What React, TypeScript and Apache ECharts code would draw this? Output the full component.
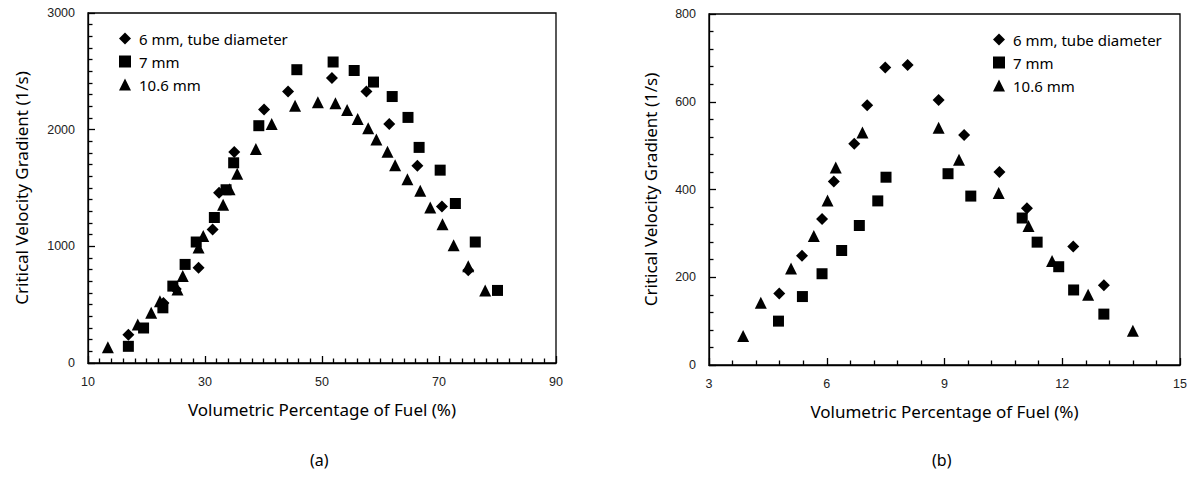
import React, { useEffect, useRef } from "react";
import * as echarts from "echarts";

// ---- Data (a): tube diameters 6, 7, 10.6 mm ----
const namesA = ["6 mm, tube diameter", "7 mm", "10.6 mm"];

const a6x = [16.9, 22.9, 25.0, 28.9, 31.3, 32.4, 35.0, 40.1, 44.2, 51.7, 57.6, 61.5, 66.3, 70.5, 75.0];
const a6y = [243, 515, 635, 817, 1145, 1460, 1808, 2172, 2327, 2443, 2327, 2049, 1690, 1341, 794];

const a7x = [16.9, 19.5, 22.8, 24.5, 26.6, 28.5, 31.6, 33.6, 34.9, 39.2, 45.7, 51.9, 55.5, 58.8, 62.0, 64.7, 66.6, 70.2, 72.8, 76.2, 80.0];
const a7y = [143, 300, 473, 659, 845, 1037, 1247, 1485, 1716, 2034, 2514, 2580, 2507, 2408, 2284, 2105, 1848, 1653, 1367, 1037, 622];

const a106x = [13.4, 18.5, 20.8, 22.3, 25.3, 26.2, 28.9, 29.7, 33.1, 34.2, 35.5, 38.7, 41.4, 45.4, 49.3, 52.3, 54.3, 56.1, 57.9, 59.3, 61.2, 62.5, 64.6, 66.8, 68.5, 70.6, 72.5, 75.0, 77.9];
const a106y = [134, 330, 430, 530, 630, 745, 990, 1089, 1357, 1490, 1623, 1834, 2049, 2206, 2236, 2227, 2169, 2092, 2012, 1915, 1811, 1696, 1576, 1476, 1333, 1189, 1009, 830, 622];

// ---- Data (b) ----
const b6x = [4.79, 5.37, 5.88, 6.18, 6.70, 7.03, 7.49, 8.06, 8.85, 9.50, 10.40, 11.10, 12.28, 13.06];
const b6y = [163, 249, 333, 418, 504, 592, 678, 684, 604, 524, 440, 357, 270, 182];

const b7x = [4.77, 5.38, 5.88, 6.38, 6.83, 7.30, 7.51, 9.09, 9.67, 10.98, 11.36, 11.91, 12.29, 13.06];
const b7y = [100, 156, 208, 261, 318, 374, 428, 436, 385, 335, 280, 224, 171, 116];

const b106x = [3.87, 4.32, 5.09, 5.67, 6.02, 6.23, 6.91, 8.85, 9.37, 10.38, 11.14, 11.74, 12.66, 13.80];
const b106y = [66, 142, 220, 294, 375, 450, 530, 541, 468, 392, 317, 237, 160, 78];

// tick settings
const aXTicks = { min: 10, max: 90, interval: 20, minor: 10 };
const aYTicks = { min: 0, max: 3000, interval: 1000, minor: 10 };
const bXTicks = { min: 3, max: 15, interval: 3, minor: 5 };
const bYTicks = { min: 0, max: 800, interval: 200, minor: 5 };

const xTitle = "Volumetric Percentage of Fuel (%)";
const yTitle = "Critical Velocity Gradient (1/s)";
const panelLabels = ["(a)", "(b)"];

const zip = (xs: number[], ys: number[]) => xs.map((x, i) => [x, ys[i]]);

const symbols = ["diamond", "rect", "triangle"];
const sizes: any[] = [12, 11, 12];

const TITLE_FONT = "'Noto Sans', 'Open Sans', sans-serif";
const TICK_FONT = "'Liberation Sans', Arial, sans-serif";

const plain = (v: number) => String(v);

function axis(kind: "x" | "y", gridIndex: number, t: any, nameGap: number) {
  return {
    type: "value",
    gridIndex,
    min: t.min,
    max: t.max,
    interval: t.interval,
    name: kind === "x" ? xTitle : yTitle,
    nameLocation: "middle",
    nameGap,
    nameTextStyle: { fontFamily: TITLE_FONT, fontSize: 17, color: "#000" },
    axisLine: { show: true, lineStyle: { color: "#000", width: 1.3 } },
    axisTick: { show: true, inside: true, length: 7, lineStyle: { color: "#000", width: 1.3 } },
    minorTick: { show: true, splitNumber: t.minor, length: 4.5, lineStyle: { color: "#000", width: 1.3 } },
    axisLabel: { margin: kind === "x" ? 12 : 13, fontFamily: TICK_FONT, fontSize: 12.5, color: "#222", formatter: plain },
    splitLine: { show: true, lineStyle: { color: "rgba(0,0,0,0)", width: 0 } },
  };
}

export default function App() {
  const ref = useRef<HTMLDivElement>(null);

  useEffect(() => {
    if (!ref.current) return;
    const chart = echarts.init(ref.current, undefined, { renderer: "svg" });

    const dataA = [zip(a6x, a6y), zip(a7x, a7y), zip(a106x, a106y)];
    const dataB = [zip(b6x, b6y), zip(b7x, b7y), zip(b106x, b106y)];

    const series: any[] = [];
    const mk = (d: number[][], i: number, ax: number) => ({
      type: "scatter",
      name: namesA[i],
      xAxisIndex: ax,
      yAxisIndex: ax,
      data: d,
      symbol: symbols[i],
      symbolSize: sizes[i],
      itemStyle: { color: "#000", opacity: 1 },
      emphasis: { disabled: true },
    });
    dataA.forEach((d, i) => series.push(mk(d, i, 0)));
    dataB.forEach((d, i) => series.push(mk(d, i, 1)));

    const legendBase = {
      orient: "vertical",
      data: namesA,
      itemWidth: 12,
      itemHeight: 12,
      itemGap: 8,
      selectedMode: false,
      textStyle: { fontFamily: TITLE_FONT, fontSize: 15, color: "#000", lineHeight: 15, padding: [0, 0, 0, 3] },
    };

    chart.setOption({
      animation: false,
      backgroundColor: "#fff",
      grid: [
        { left: 88, top: 13, width: 468, height: 350, show: true, borderColor: "#000", borderWidth: 1.3 },
        { left: 709, top: 14, width: 471, height: 351, show: true, borderColor: "#000", borderWidth: 1.3 },
      ],
      xAxis: [axis("x", 0, aXTicks, 38), axis("x", 1, bXTicks, 38)],
      yAxis: [axis("y", 0, aYTicks, 58), axis("y", 1, bYTicks, 50)],
      legend: [
        { ...legendBase, left: 114, top: 26 },
        { ...legendBase, left: 988, top: 27 },
      ],
      graphic: [
        { type: "text", left: 322 - 12, top: 452, style: { text: panelLabels[0], font: `16px ${TITLE_FONT}`, fill: "#000" } },
        { type: "text", left: 944 - 12, top: 452, style: { text: panelLabels[1], font: `16px ${TITLE_FONT}`, fill: "#000" } },
      ],
      series,
    });

    return () => chart.dispose();
  }, []);

  return (
    <div
      ref={ref}
      style={{ position: "fixed", left: 0, top: 0, width: 1192, height: 478, background: "#fff" }}
    />
  );
}
